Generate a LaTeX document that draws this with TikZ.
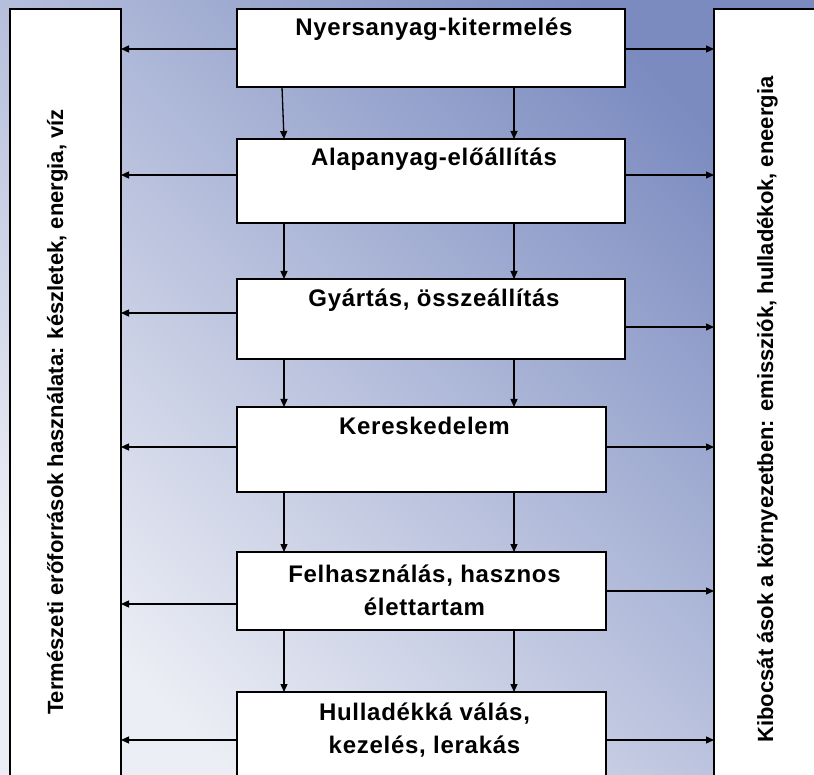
\documentclass[tikz,border=0pt]{standalone}
\usepackage{fontspec}
\setmainfont{Liberation Sans}[BoldFont={Liberation Sans Bold}]
\newfontfamily\boxfont{Liberation Sans Bold}[LetterSpace=3]
\newfontfamily\sidefont{Liberation Sans Bold}
\usetikzlibrary{arrows.meta}
\definecolor{bgdark}{HTML}{7B8BC0}
\definecolor{bglight}{HTML}{ECEEF5}
\begin{document}
\begin{tikzpicture}[x=1pt,y=-1pt,
  box/.style={draw=black, fill=white, line width=1.4pt, inner sep=0pt, outer sep=0pt},
  lbl/.style={font=\boxfont\fontsize{24}{33}\selectfont, anchor=base, align=center, inner sep=0pt},
  side/.style={font=\sidefont\fontsize{22}{26}\selectfont, anchor=base, inner sep=0pt, rotate=90},
  arr/.style={-{Triangle[length=8pt,width=7pt]}, line width=1.3pt}]
\useasboundingbox (0,0) rectangle (814,775);
\clip (0,0) rectangle (814,775);
\shade[top color=bgdark, bottom color=bglight, shading angle=-45] (-2,-2) rectangle (816,777);

% side boxes
\node[box, minimum width=111pt, minimum height=801pt] (L) at (65.5,409.5) {};
\node[box, minimum width=120pt, minimum height=801pt] (R) at (774,409.5) {};
\node[side] (lt) at (63,412) {Természeti erőforrások használata: készletek, energia, víz};
\node[side] (rt) at (773,409.5) {Kibocsát ások a környezetben: emissziók, hulladékok, eneergia};

% central boxes
\node[box, minimum width=388pt, minimum height=78pt] (b1) at (431,48) {};
\node[box, minimum width=388pt, minimum height=84pt] (b2) at (431,181) {};
\node[box, minimum width=388pt, minimum height=80pt] (b3) at (431,319) {};
\node[box, minimum width=369pt, minimum height=85pt] (b4) at (421.5,449.5) {};
\node[box, minimum width=369pt, minimum height=78pt] (b5) at (421.5,591) {};
\node[box, minimum width=369pt, minimum height=110pt] (b6) at (421.5,747) {};

\node[lbl] (t1) at (434,36) {Nyersanyag-kitermelés};
\node[lbl] (t2) at (434,166) {Alapanyag-előállítás};
\node[lbl] (t3) at (434,307) {Gyártás, összeállítás};
\node[lbl] (t4) at (424.5,435) {Kereskedelem};
\node[lbl] (t5) at (424.5,615) {Felhasználás, hasznos\\élettartam};
\node[lbl] (t6) at (424.5,753) {Hulladékká válás,\\kezelés, lerakás};

% vertical arrows
\draw[arr] (b1.south -| 282,0) -- (b2.north -| 284,0);
\draw[arr] (b1.south -| 514,0) -- (b2.north -| 514,0);
\draw[arr] (b2.south -| 284,0) -- (b3.north -| 284,0);
\draw[arr] (b2.south -| 514,0) -- (b3.north -| 514,0);
\draw[arr] (b3.south -| 284,0) -- (b4.north -| 284,0);
\draw[arr] (b3.south -| 514,0) -- (b4.north -| 514,0);
\draw[arr] (b4.south -| 284,0) -- (b5.north -| 284,0);
\draw[arr] (b4.south -| 514,0) -- (b5.north -| 514,0);
\draw[arr] (b5.south -| 284,0) -- (b6.north -| 284,0);
\draw[arr] (b5.south -| 514,0) -- (b6.north -| 514,0);

% left arrows
\draw[arr] (b1.west |- 0,49) -- (L.east |- 0,49);
\draw[arr] (b2.west |- 0,175) -- (L.east |- 0,175);
\draw[arr] (b3.west |- 0,313) -- (L.east |- 0,313);
\draw[arr] (b4.west |- 0,447) -- (L.east |- 0,447);
\draw[arr] (b5.west |- 0,604) -- (L.east |- 0,604);
\draw[arr] (b6.west |- 0,740) -- (L.east |- 0,740);

% right arrows
\draw[arr] (b1.east |- 0,49) -- (R.west |- 0,49);
\draw[arr] (b2.east |- 0,175) -- (R.west |- 0,175);
\draw[arr] (b3.east |- 0,327) -- (R.west |- 0,327);
\draw[arr] (b4.east |- 0,447) -- (R.west |- 0,447);
\draw[arr] (b5.east |- 0,591) -- (R.west |- 0,591);
\draw[arr] (b6.east |- 0,740) -- (R.west |- 0,740);
\end{tikzpicture}
\end{document}
